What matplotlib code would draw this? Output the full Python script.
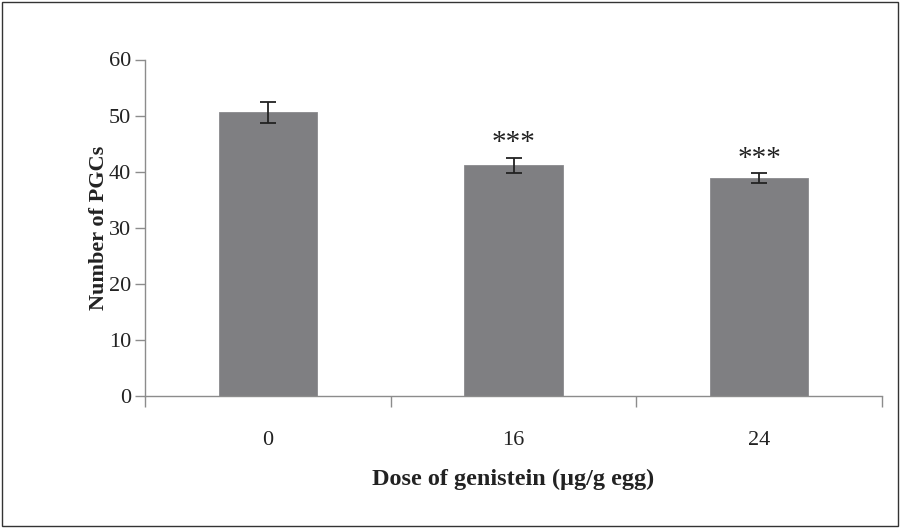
import numpy as np
import matplotlib
matplotlib.use('Agg')
import matplotlib.pyplot as plt
from matplotlib.patches import Rectangle

# Data
doses = ['0', '16', '24']
pgc_means = [50.6, 41.1, 38.9]
pgc_errors = [1.9, 1.4, 0.85]
significance = ['', '***', '***']

plt.rcParams['font.family'] = ['Liberation Serif', 'DejaVu Serif']

fig = plt.figure(figsize=(9, 5.28), dpi=100)
ax = fig.add_axes([145 / 900, 1 - 396 / 528, (882 - 145) / 900, (396 - 59.5) / 528])

x = np.arange(len(doses))
bar_color = '#7f7f82'
ax.bar(x, pgc_means, width=0.4, color=bar_color, edgecolor='#8a8a8d', linewidth=0.6, zorder=2)
ax.errorbar(x, pgc_means, yerr=pgc_errors, fmt='none', ecolor='#222222',
            elinewidth=1.3, capsize=6, capthick=1.3, zorder=3)

for xi, m, e, s in zip(x, pgc_means, pgc_errors, significance):
    if s:
        ax.annotate(s, (xi, m + e), xytext=(0, 1), textcoords='offset points',
                    ha='center', va='bottom', fontsize=21, color='#222222')

ax.set_xlim(-0.5, len(doses) - 0.5)
ax.set_ylim(0, 60)
ax.set_yticks(np.arange(0, 61, 10))
ax.set_xticks(x)
ax.set_xticklabels(doses)
ax.set_xticks(np.arange(-0.5, len(doses), 1), minor=True)

for side in ['top', 'right']:
    ax.spines[side].set_visible(False)
for side in ['left', 'bottom']:
    ax.spines[side].set_color('#8c8c8c')
    ax.spines[side].set_linewidth(1.0)

ax.tick_params(axis='y', direction='out', length=7, width=1.0, color='#8c8c8c',
               labelsize=16, pad=3, labelcolor='#222222')
ax.tick_params(axis='x', which='major', length=0, labelsize=16, pad=25, labelcolor='#222222')
ax.tick_params(axis='x', which='minor', direction='out', length=8, width=1.0, color='#8c8c8c')

ax.set_ylabel('Number of PGCs', fontsize=16, fontweight='bold', labelpad=0, color='#222222')
ax.set_xlabel('Dose of genistein (µg/g egg)', fontsize=17.5, fontweight='bold',
              labelpad=14, color='#222222')

# outer frame around the whole figure
fig.patches.append(Rectangle((0.002, 0.003), 0.996, 0.994, transform=fig.transFigure,
                             fill=False, edgecolor='#333333', linewidth=1.0))

plt.savefig('out.png', dpi=100)
plt.close()
